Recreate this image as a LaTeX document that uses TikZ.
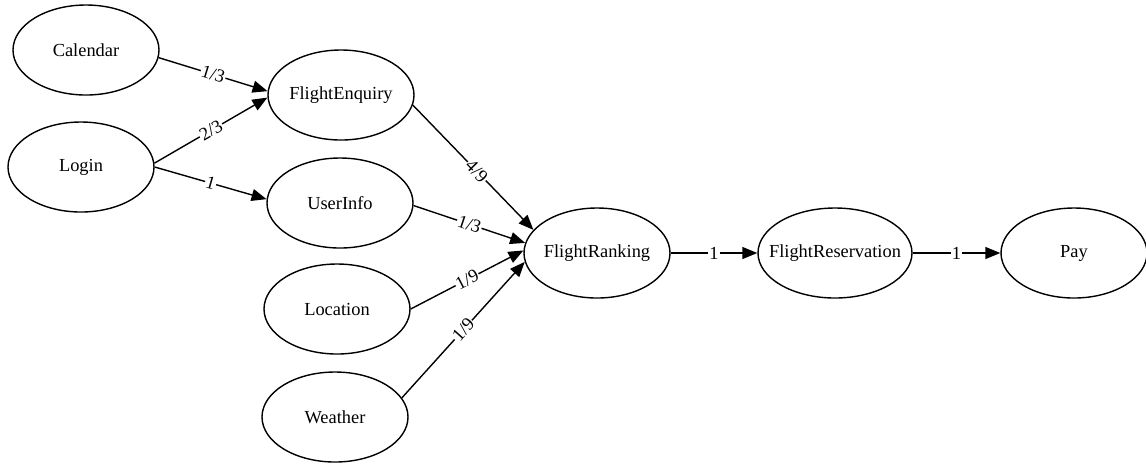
\documentclass[tikz,border=0pt]{standalone}
\usepackage{fontspec}
\newfontfamily\graphfont{Liberation Serif}
\usetikzlibrary{shapes.geometric,arrows.meta}
\tikzset{
	service/.style={draw,ellipse,line width=0.7pt,minimum width=73pt,minimum height=45pt,inner sep=0pt,
		execute at begin node=\hbox to 0pt\bgroup\hss,execute at end node=\hss\egroup},
	flow/.style={->,line width=0.7pt},
	weight/.style={sloped,fill=white,inner sep=0.5pt,pos=0.5}
}
\begin{document}
\begin{tikzpicture}[x=0.5pt,y=-0.5pt,font=\graphfont\fontsize{9.2}{11}\selectfont,line join=round,>={Triangle[length=7.5pt,width=6pt]}]
	\useasboundingbox (0,0) rectangle (1146,463);
	\node[service] (cal) at (86,50) {Calendar};
	\node[service] (login) at (81,167) {Login};
	\node[service] (enq) at (341,95) {FlightEnquiry};
	\node[service] (user) at (340,203) {UserInfo};
	\node[service] (loc) at (337,309) {Location};
	\node[service] (weather) at (335,417) {Weather};
	\node[service] (rank) at (597,253) {FlightRanking};
	\node[service,minimum width=77pt] (res) at (835,253) {FlightReservation};
	\node[service] (pay) at (1074,253) {Pay};
	% edges leave and enter at fixed angles
	\draw[flow] (cal.-6) -- node[weight]{1/3} (enq.177);
	\draw[flow] (login.3) -- node[weight]{2/3} (enq.-178);
	\draw[flow] (login.0) -- node[weight]{1} (user.177);
	\draw[flow] (enq.-8) -- node[weight,pos=0.53]{4/9} (rank.160);
	\draw[flow] (user.-2) -- node[weight]{1/3} (rank.172);
	\draw[flow] (loc.0) -- node[weight]{1/9} (rank.178);
	\draw[flow] (weather.16) -- node[weight]{1/9} (rank.-173);
	\draw[flow] (rank) -- node[weight]{1} (res);
	\draw[flow] (res) -- node[weight]{1} (pay);
\end{tikzpicture}
\end{document}
